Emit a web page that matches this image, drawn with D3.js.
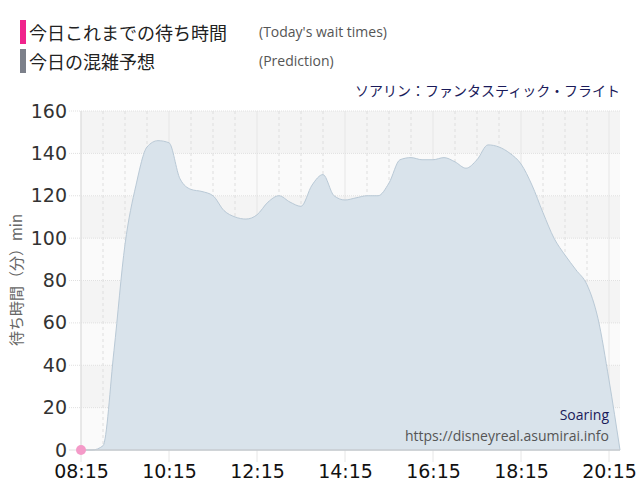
<!DOCTYPE html><html><head><meta charset="utf-8"><script src="https://cdn.jsdelivr.net/npm/d3@7"></script>
<style>body{margin:0;background:#fff;font-family:"Noto Sans CJK JP","Noto Sans",sans-serif}</style></head><body><svg id="c" width="640" height="500"></svg><script>
const times=["08:15","08:30","08:45","09:00","09:15","09:30","09:45","10:00","10:15","10:30","10:45","11:00","11:15","11:30","11:45","12:00","12:15","12:30","12:45","13:00","13:15","13:30","13:45","14:00","14:15","14:30","14:45","15:00","15:15","15:30","15:45","16:00","16:15","16:30","16:45","17:00","17:15","17:30","17:45","18:00","18:15","18:30","18:45","19:00","19:15","19:30","19:45","20:00","20:15","20:30"];
const prediction=[0,0,2,47,97,125,143,146,145,128,123,122,120,113,110,109,111,117,120,117,115,125,130,120,118,119,120,120,126,137,138,137,137,138,136,133,137,144,143,140,135,125,112,100,92,85,78,62,33,0];
const actualTimes=["08:15"];
const actualValues=[0];
const yTicks=[0,20,40,60,80,100,120,140,160];
const xTickLabels=["08:15","10:15","12:15","14:15","16:15","18:15","20:15"];
const pt=s=>{const[h,m]=s.split(":").map(Number);return h*60+m;};
const svg=d3.select("#c");
const L=81,R=620,T=111,B=450;
const x=d3.scaleLinear().domain([pt("08:15"),pt("20:45")]).range([L,R+11]);
const y=d3.scaleLinear().domain([0,160]).range([B,T]);
// bands
for(let i=0;i<8;i++){svg.append("rect").attr("x",L).attr("width",R-L).attr("y",y(yTicks[i+1])).attr("height",y(yTicks[i])-y(yTicks[i+1])).attr("fill",i%2?"#f4f4f4":"#fafafa");}
// vertical grid
for(let t=pt("08:15");t<=pt("20:30");t+=30){const hour=(t-pt("08:15"))%120===0;svg.append("line").attr("x1",x(t)).attr("x2",x(t)).attr("y1",T).attr("y2",hour?B+12:B).attr("stroke",hour?"#e6e6e6":"#dedede").attr("stroke-dasharray",hour?null:"3,3");}
yTicks.forEach(v=>svg.append("line").attr("x1",L-12).attr("x2",R).attr("y1",y(v)).attr("y2",y(v)).attr("stroke","#e0e0e0").attr("stroke-dasharray",v?"1,1":null));
const area=d3.area().x((d,i)=>x(pt(times[i]))).y0(B).y1(d=>y(d)).curve(d3.curveMonotoneX);
svg.append("path").datum(prediction).attr("d",area).attr("fill","#d9e3eb").attr("stroke","#b9c9d6").attr("stroke-width",1);
svg.append("line").attr("x1",L).attr("x2",R).attr("y1",B).attr("y2",B).attr("stroke","#ccc");
svg.append("line").attr("x1",L).attr("x2",L).attr("y1",T).attr("y2",B).attr("stroke","#ddd");
actualTimes.forEach((t,i)=>svg.append("circle").attr("cx",x(pt(t))).attr("cy",y(actualValues[i])).attr("r",5).attr("fill","#f49ac8"));
// axes labels
const ya=svg.append("g").attr("transform",`translate(${L-14},0)`).call(d3.axisLeft(y).tickValues(yTicks).tickSize(0).tickPadding(0));
ya.select(".domain").remove();ya.selectAll("text").attr("font-size",19).attr("fill","#333").attr("font-family","DejaVu Sans, sans-serif");
const xa=svg.append("g").attr("transform",`translate(0,${B+10})`).call(d3.axisBottom(x).tickValues(xTickLabels.map(pt)).tickFormat((d,i)=>xTickLabels[i]).tickSize(0).tickPadding(4));
xa.select(".domain").remove();xa.selectAll("text").attr("font-size",19).attr("fill","#111").attr("font-family","DejaVu Sans, sans-serif");
svg.append("text").attr("transform","translate(22,280) rotate(-90)").attr("text-anchor","middle").attr("font-size",15).attr("fill","#666").text("待ち時間（分）min");
// legend
svg.append("rect").attr("x",20).attr("y",20).attr("width",6).attr("height",24).attr("fill","#f0238c");
svg.append("rect").attr("x",20).attr("y",49).attr("width",6).attr("height",24).attr("fill","#7c808a");
svg.append("text").attr("x",29).attr("y",40).attr("font-size",18).attr("fill","#222").text("今日これまでの待ち時間");
svg.append("text").attr("x",29).attr("y",69).attr("font-size",18).attr("fill","#222").text("今日の混雑予想");
svg.append("text").attr("x",259).attr("y",37).attr("font-size",14).attr("fill","#555").attr("font-family","Open Sans, sans-serif").text("(Today's wait times)");
svg.append("text").attr("x",259).attr("y",66).attr("font-size",14).attr("fill","#555").attr("font-family","Open Sans, sans-serif").text("(Prediction)");
svg.append("text").attr("x",620).attr("y",96).attr("text-anchor","end").attr("font-size",14).attr("fill","#1a1a5a").text("ソアリン：ファンタスティック・フライト");
svg.append("text").attr("x",609).attr("y",420).attr("text-anchor","end").attr("font-size",14).attr("fill","#1a1a5a").attr("font-family","Open Sans, sans-serif").text("Soaring");
svg.append("text").attr("x",609).attr("y",441).attr("text-anchor","end").attr("font-size",14).attr("fill","#555").attr("font-family","Open Sans, sans-serif").text("https://disneyreal.asumirai.info");
</script></body></html>
